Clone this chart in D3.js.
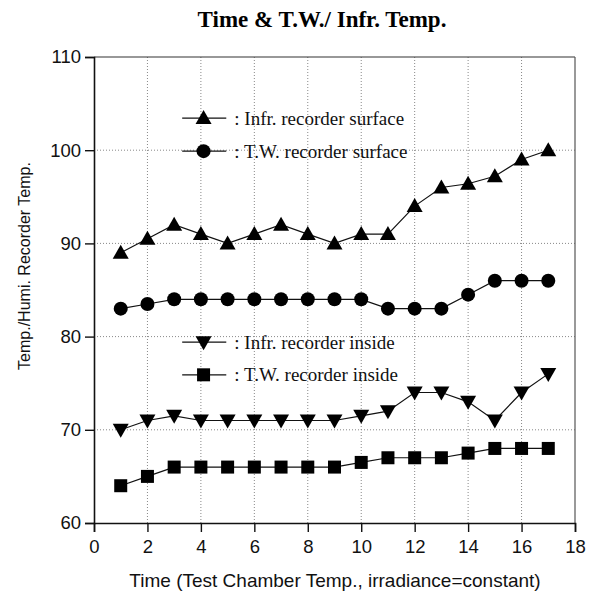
<!DOCTYPE html>
<html>
<head>
<meta charset="utf-8">
<script src="https://cdn.jsdelivr.net/npm/d3@7"></script>
<style>
	body { margin: 0; background: #fff; }
</style>
</head>
<body>
<div id="chart"></div>
<script>

// data
var times = [1, 2, 3, 4, 5, 6, 7, 8, 9, 10, 11, 12, 13, 14, 15, 16, 17];
var infrSurface = [89, 90.5, 92, 91, 90, 91, 92, 91, 90, 91, 91, 94, 96, 96.4, 97.2, 99, 100];
var twSurface = [83, 83.5, 84, 84, 84, 84, 84, 84, 84, 84, 83, 83, 83, 84.5, 86, 86, 86];
var infrInside = [70, 71, 71.5, 71, 71, 71, 71, 71, 71, 71.5, 72, 74, 74, 73, 71, 74, 76];
var twInside = [64, 65, 66, 66, 66, 66, 66, 66, 66, 66.5, 67, 67, 67, 67.5, 68, 68, 68];
var xTicks = [0, 2, 4, 6, 8, 10, 12, 14, 16, 18];
var yTicks = [60, 70, 80, 90, 100, 110];

var series = [
	{name: ": Infr. recorder surface", values: infrSurface, symbol: "up", legendY: 103.45},
	{name: ": T.W. recorder surface", values: twSurface, symbol: "circle", legendY: 99.9},
	{name: ": Infr. recorder inside", values: infrInside, symbol: "down", legendY: 79.4},
	{name: ": T.W. recorder inside", values: twInside, symbol: "square", legendY: 75.9}
];

var totwidth = 596,
	totheight = 599,
	paddingLeft = 94,
	paddingRight = 21,
	paddingTop = 57,
	paddingBottom = 76;

var svg = d3.select("#chart").append("svg")
	.attr("width", totwidth)
	.attr("height", totheight);

var x = d3.scaleLinear()
	.domain([0, 18])
	.range([paddingLeft, totwidth - paddingRight]);

var y = d3.scaleLinear()
	.domain([60, 110])
	.range([totheight - paddingBottom, paddingTop]);

// gridlines

svg.append("g")
	.selectAll("line").data(xTicks.slice(1, -1)).enter().append("line")
		.attr("x1", function(d) { return x(d); })
		.attr("x2", function(d) { return x(d); })
		.attr("y1", y(110))
		.attr("y2", y(60))
		.attr("stroke", "#888")
		.attr("stroke-width", 1)
		.attr("stroke-dasharray", "1,2");

svg.append("g")
	.selectAll("line").data(yTicks.slice(1, -1)).enter().append("line")
		.attr("x1", x(0))
		.attr("x2", x(18))
		.attr("y1", function(d) { return y(d); })
		.attr("y2", function(d) { return y(d); })
		.attr("stroke", "#888")
		.attr("stroke-width", 1)
		.attr("stroke-dasharray", "1,2");

// frame top and right

svg.append("line")
	.attr("x1", x(0)).attr("x2", x(18))
	.attr("y1", y(110)).attr("y2", y(110))
	.attr("stroke", "#333").attr("stroke-width", 1.2);
svg.append("line")
	.attr("x1", x(18)).attr("x2", x(18))
	.attr("y1", y(110)).attr("y2", y(60))
	.attr("stroke", "#555").attr("stroke-width", 1.2);

// axes

var xAxis = d3.axisBottom(x).tickValues(xTicks).tickSize(9).tickPadding(8);
var yAxis = d3.axisLeft(y).tickValues(yTicks).tickSize(9).tickPadding(4);

var gx = svg.append("g")
	.attr("transform", "translate(0," + y(60) + ")")
	.call(xAxis);
var gy = svg.append("g")
	.attr("transform", "translate(" + x(0) + ",0)")
	.call(yAxis);

[gx, gy].forEach(function(g) {
	g.select(".domain").attr("stroke", "#111").attr("stroke-width", 1.6);
	g.selectAll(".tick line").attr("stroke", "#111").attr("stroke-width", 1.4);
	g.selectAll(".tick text")
		.attr("fill", "#111")
		.style("font-family", "'Liberation Sans', Arial, sans-serif")
		.style("font-size", "18.5px");
});

// symbols

function drawSymbol(g, kind, cx, cy) {
	if (kind === "up") {
		g.append("path")
			.attr("d", "M" + cx + "," + (cy - 8) + "L" + (cx + 8) + "," + (cy + 6) + "L" + (cx - 8) + "," + (cy + 6) + "Z")
			.attr("fill", "#000");
	} else if (kind === "down") {
		g.append("path")
			.attr("d", "M" + cx + "," + (cy + 8) + "L" + (cx + 8) + "," + (cy - 6) + "L" + (cx - 8) + "," + (cy - 6) + "Z")
			.attr("fill", "#000");
	} else if (kind === "circle") {
		g.append("circle")
			.attr("cx", cx).attr("cy", cy).attr("r", 7)
			.attr("fill", "#000");
	} else {
		g.append("rect")
			.attr("x", cx - 6.5).attr("y", cy - 6.5)
			.attr("width", 13).attr("height", 13)
			.attr("fill", "#000");
	}
}

var line = d3.line()
	.x(function(d) { return x(d.t); })
	.y(function(d) { return y(d.v); });

series.forEach(function(s) {
	var pts = times.map(function(t, i) { return {t: t, v: s.values[i]}; });
	var g = svg.append("g");
	g.append("path")
		.attr("d", line(pts))
		.attr("fill", "none")
		.attr("stroke", "#111")
		.attr("stroke-width", 1.2);
	pts.forEach(function(p) { drawSymbol(g, s.symbol, x(p.t), y(p.v)); });

	// legend entry
	var ly = y(s.legendY);
	var lg = svg.append("g");
	lg.append("line")
		.attr("x1", x(3.3)).attr("x2", x(4.95))
		.attr("y1", ly).attr("y2", ly)
		.attr("stroke", "#111").attr("stroke-width", 1.2);
	drawSymbol(lg, s.symbol, x(4.1), ly);
	lg.append("text")
		.attr("x", x(5.25))
		.attr("y", ly)
		.attr("dy", "0.35em")
		.style("font-family", "'Liberation Serif', 'Times New Roman', serif")
		.style("font-size", "19px")
		.attr("fill", "#111")
		.text(s.name);
});

// titles

svg.append("text")
	.attr("x", 322)
	.attr("y", 27)
	.attr("text-anchor", "middle")
	.style("font-family", "'Liberation Serif', 'Times New Roman', serif")
	.style("font-weight", "bold")
	.style("font-size", "23px")
	.text("Time & T.W./ Infr. Temp.");

svg.append("text")
	.attr("x", 335)
	.attr("y", 587)
	.attr("text-anchor", "middle")
	.style("font-family", "'Liberation Sans', Arial, sans-serif")
	.style("font-size", "19px")
	.attr("fill", "#111")
	.text("Time (Test Chamber Temp., irradiance=constant)");

svg.append("text")
	.attr("transform", "translate(30," + 266 + ") rotate(-90)")
	.attr("text-anchor", "middle")
	.style("font-family", "'Liberation Sans', Arial, sans-serif")
	.style("font-size", "16px")
	.attr("fill", "#111")
	.text("Temp./Humi. Recorder Temp.");

</script>
</body>
</html>
